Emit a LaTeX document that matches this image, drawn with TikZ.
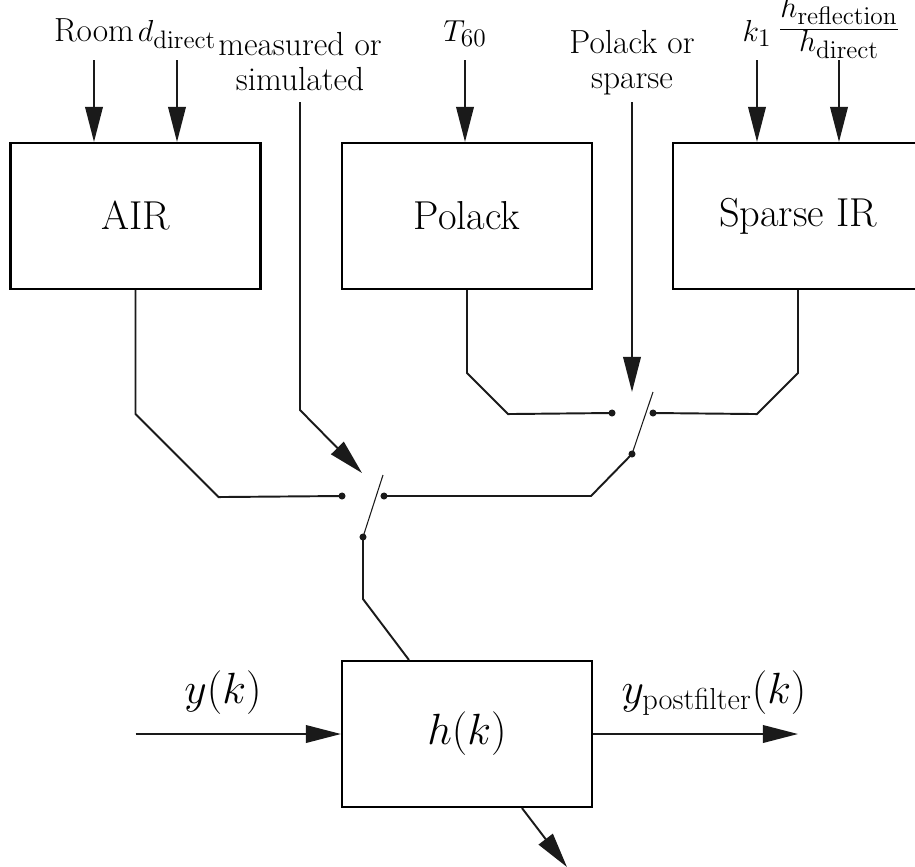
\documentclass[tikz,border=0pt]{standalone}
\usepackage{tikz}
\usetikzlibrary{arrows.meta,positioning,calc}
\definecolor{ink}{HTML}{1A1A1A}

\begin{document}
\begin{tikzpicture}[x=0.02cm,y=-0.02cm,
  blk/.style={draw,line width=1.2pt,minimum width=5cm,minimum height=2.92cm,font=\fontsize{23}{28}\selectfont,inner sep=0pt},
  lbl/.style={font=\fontsize{19}{22}\selectfont,align=center,inner sep=0pt},
  sig/.style={font=\fontsize{23}{28}\selectfont,inner sep=0pt},
  wire/.style={line width=1.1pt,ink},
  arr/.style={wire,-{Triangle[length=20pt,width=10pt]}},
  blade/.style={line width=0.6pt,ink},
  dot/.style={circle,fill=ink,inner sep=0pt,minimum size=4pt}]
\clip (0,0) rectangle (915,866);
% blocks
\node[blk] (air) at (135.5,216) {AIR};
\node[blk] (polack) at (467,216) {Polack};
\node[blk] (sparse) at (798,216) {Sparse IR};
\node[blk] (hk) at (467,734) {$h(k)$};
% parameters on top
\node[lbl,anchor=base] (room) at (94,41) {Room};
\node[lbl,anchor=base] (ddir) at (177,41) {$d_{\mathrm{direct}}$};
\node[lbl,anchor=north] (meas) at (300,32) {measured or\\[-2pt]simulated};
\node[lbl,anchor=base] (tsixty) at (465,41) {$T_{60}$};
\node[lbl,anchor=north] (choose) at (632,30) {Polack or\\[-2pt]sparse};
\node[lbl,anchor=base] (kone) at (757,41) {$k_1$};
\node[lbl,anchor=base] (ratio) at (839,37) {$\frac{\textstyle h_{\mathrm{reflection}}\rule[-6pt]{0pt}{6pt}}{\textstyle h_{\mathrm{direct}}}$};
\node[sig,anchor=base] (yk) at (223,703) {$y(k)$};
\node[sig,anchor=base] (ypost) at (714,703) {$y_{\mathrm{postfilter}}(k)$};
\draw[arr] ($(room.base)+(0,19)$) -- (room |- air.north);
\draw[arr] ($(ddir.base)+(0,19)$) -- (ddir |- air.north);
\draw[arr] ($(tsixty.base)+(0,19)$) -- (tsixty |- polack.north);
\draw[arr] ($(kone.base)+(0,19)$) -- (kone |- sparse.north);
\draw[arr] ($(ratio.base)+(0,23)$) -- (ratio |- sparse.north);
% switches
\coordinate (s1a) at (342,496); \coordinate (s1b) at (384,496);
\coordinate (s1c) at (363,537); \coordinate (s1t) at (383,475);
\coordinate (s2a) at (612,413); \coordinate (s2b) at (653,413);
\coordinate (s2c) at (632,454); \coordinate (s2t) at (653,392);
\draw[blade] (s1c) -- (s1t); \draw[blade] (s2c) -- (s2t);
\foreach \p in {s1a,s1b,s1c,s2a,s2b,s2c} \node[dot] at (\p) {};
\draw[arr] ($(meas.north)+(0,70)$) -- ++(0,308) -- ++(62,63);
\draw[arr] ($(choose.north)+(0,72)$) -- (choose |- s2t);
% wiring
\draw[wire] (air.south) -- ++(0,124) -- ++(83,83) -- (s1a);
\draw[wire] (polack.south) -- ++(0,83) -- ++(41,41) -- (s2a);
\draw[wire] (sparse.south) -- ++(0,83) -- ++(-41,41) -- (s2b);
\draw[wire] (s2c) -- ++(-41,42) -- (s1b);
\draw[wire] (s1c) -- ++(0,62) -- ($(hk.north west)+(68,0)$);
% filter
\draw[arr] (air.south |- hk.west) -- (hk.west);
\draw[arr] (hk.east) -- (sparse.south |- hk.east);
\draw[arr] ($(hk.south west)+(181,0)$) -- ++(45,59);
\end{tikzpicture}
\end{document}
